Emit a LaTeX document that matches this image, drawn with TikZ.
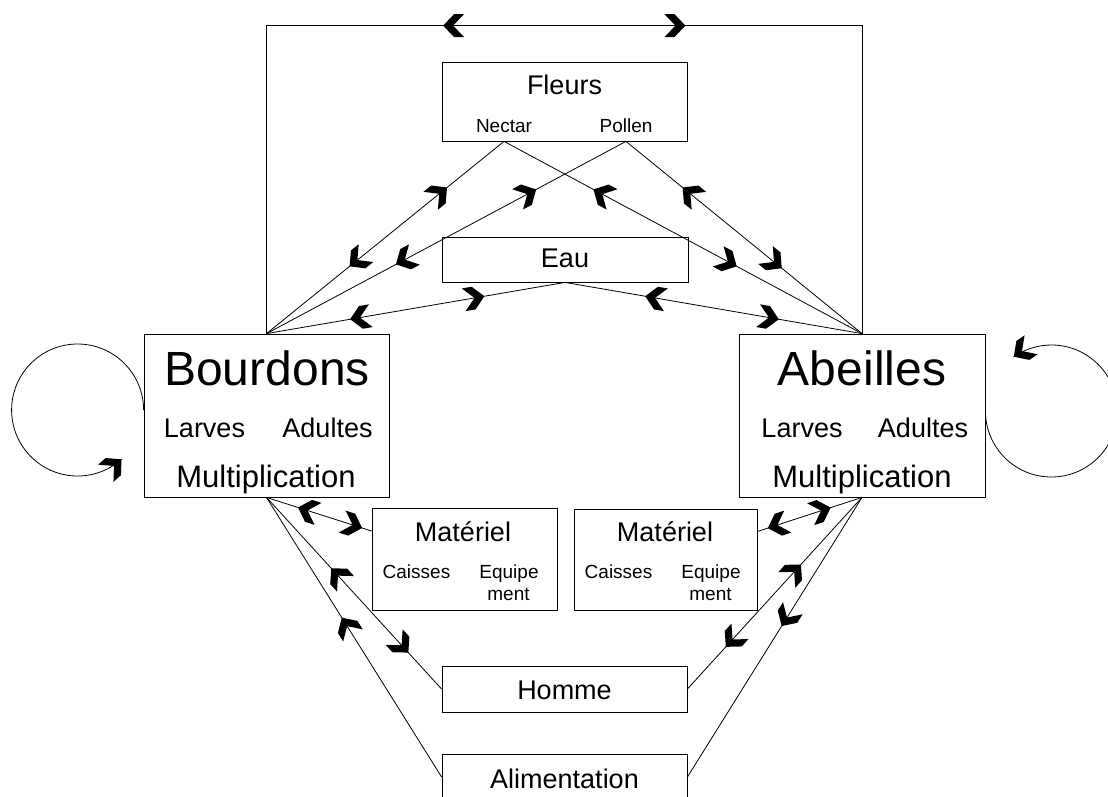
\documentclass[tikz,border=0pt]{standalone}
\usepackage{fontspec}
\setmainfont{Liberation Sans}
\usetikzlibrary{decorations.markings}

\newcommand{\chevron}{\fill (0pt,0pt) -- (-11pt,11.5pt) -- (-21pt,11.5pt) -- (-10pt,0pt) -- (-21pt,-11.5pt) -- (-11pt,-11.5pt) -- cycle;}

\begin{document}
\begin{tikzpicture}[x=1pt,y=-1pt,line width=0.8pt,
    box/.style={draw,rectangle,inner sep=0pt},
    txt/.style={anchor=base,inner sep=0pt,font=\fontsize{27}{30}\selectfont},
    sub/.style={anchor=base,inner sep=0pt,font=\fontsize{19}{21}\selectfont},
    titre/.style={anchor=base,inner sep=0pt,font=\fontsize{48}{50}\selectfont},
    multi/.style={anchor=base,inner sep=0pt,font=\fontsize{31}{34}\selectfont},
    fwd/.style={postaction={decorate,decoration={markings,mark=at position #1 with {\chevron}}}},
    bwd/.style={postaction={decorate,decoration={markings,mark=at position #1 with {\begin{scope}[rotate=180]\chevron\end{scope}}}}}]
    \useasboundingbox (0,0) rectangle (1108,796);
    \clip (0,0) rectangle (1108,796);
    % boites
    \node [box,minimum width=245pt,minimum height=79pt] (fleurs) at (564.5,101.5) {};
    \node [box,minimum width=246pt,minimum height=45pt] (eau) at (565,259.5) {};
    \node [box,minimum width=245pt,minimum height=163pt] (bourdons) at (266.5,415.5) {};
    \node [box,minimum width=246pt,minimum height=163pt] (abeilles) at (862,415.5) {};
    \node [box,minimum width=185pt,minimum height=102pt] (matl) at (464.5,559) {};
    \node [box,minimum width=183pt,minimum height=101pt] (matr) at (665.5,559.5) {};
    \node [box,minimum width=245pt,minimum height=46pt] (homme) at (564.5,689) {};
    \node [box,minimum width=245pt,minimum height=46pt] (alim) at (564.5,777) {};
    % textes
    \node [txt] (fleurstxt) at (564.5,94) {Fleurs};
    \node [sub] (nectar) at (504,132) {Nectar};
    \node [sub] (pollen) at (626,132) {Pollen};
    \node [txt] (eautxt) at (565,267) {Eau};
    \node [titre] (bourdonstxt) at (267,385) {Bourdons};
    \node [txt] (larvesb) at (204.5,437) {Larves};
    \node [txt] (adultesb) at (327.5,437) {Adultes};
    \node [multi] (multib) at (266,487) {Multiplication};
    \node [titre] (abeillestxt) at (862,385) {Abeilles};
    \node [txt] (larvesa) at (802,437) {Larves};
    \node [txt] (adultesa) at (923,437) {Adultes};
    \node [multi] (multia) at (862,487) {Multiplication};
    \node [txt] (matltxt) at (463,541) {Matériel};
    \node [sub] (caissesl) at (416.5,578) {Caisses};
    \node [sub] (equipel) at (509,578) {Equipe};
    \node [sub] (mentl) at (508.5,600) {ment};
    \node [txt] (matrtxt) at (665,541) {Matériel};
    \node [sub] (caissesr) at (618.5,578) {Caisses};
    \node [sub] (equiper) at (711,578) {Equipe};
    \node [sub] (mentr) at (710.5,600) {ment};
    \node [txt] (hommetxt) at (564.5,699) {Homme};
    \node [txt] (alimtxt) at (564.5,788) {Alimentation};
    % fleurs, eau
    \draw [bwd=0.24,fwd=0.65] (nectar |- fleurs.south) -- (bourdons.north);
    \draw [bwd=0.25,fwd=0.64] (pollen |- fleurs.south) -- (bourdons.north);
    \draw [bwd=0.25,fwd=0.65] (nectar |- fleurs.south) -- (abeilles.north);
    \draw [bwd=0.24,fwd=0.66] (pollen |- fleurs.south) -- (abeilles.north);
    \draw [bwd=0.27,fwd=0.72] (eau.south) -- (bourdons.north);
    \draw [bwd=0.27,fwd=0.72] (eau.south) -- (abeilles.north);
    \draw [bwd=0.40,fwd=0.60] (bourdons.north) -- ++(0,-308) -| (abeilles.north);
    % materiel, homme, alimentation
    \draw [bwd=0.30,fwd=0.91] (bourdons.south) -- ([yshift=28pt]matl.west);
    \draw [bwd=0.37,fwd=0.81] (bourdons.south) -- (homme.west);
    \draw [bwd=0.43] (bourdons.south) -- (alim.west);
    \draw [bwd=0.30,fwd=0.90] (abeilles.south) -- ([yshift=28pt]matr.east);
    \draw [bwd=0.35,fwd=0.78] (abeilles.south) -- (homme.east);
    \draw [fwd=0.46] (abeilles.south) -- (alim.east);
    % boucles
    \draw [fwd=0.999] ([yshift=5.5pt]bourdons.west) arc[start angle=0,end angle=-312,radius=66];
    \draw [fwd=0.999] ([yshift=4.5pt]abeilles.east) arc[start angle=180,end angle=-125,radius=66];
  \end{tikzpicture}
\end{document}
